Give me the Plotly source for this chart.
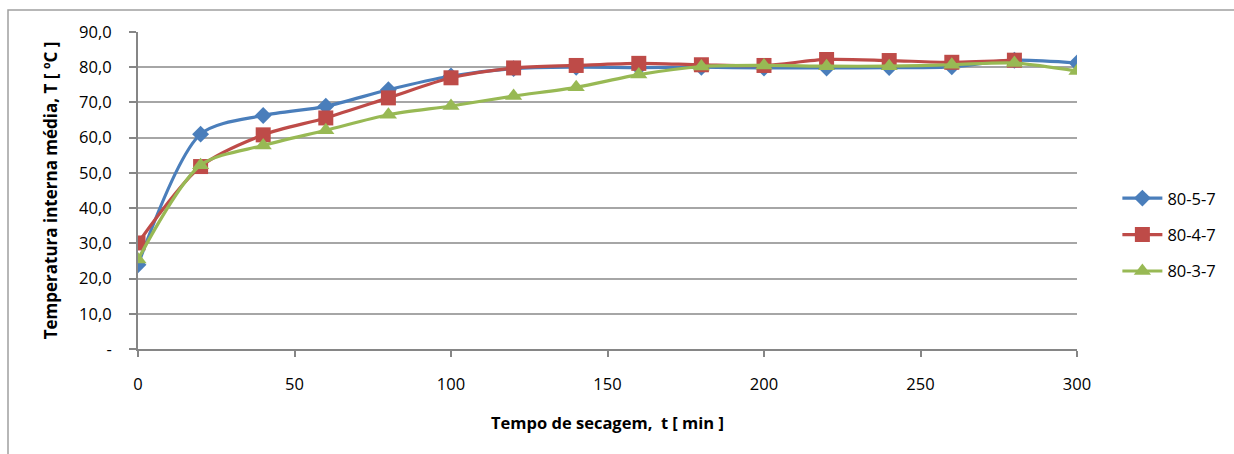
import plotly.graph_objects as go

# Drying time (min)
tempo = [0, 20, 40, 60, 80, 100, 120, 140, 160, 180, 200, 220, 240, 260, 280, 300]

# Mean internal temperature (ºC) for each drying condition
t_80_5_7 = [23.9, 61.0, 66.3, 68.9, 73.6, 77.5, 79.6, 80.0, 79.9, 80.0, 79.8, 79.8, 79.9, 80.1, 82.0, 81.2]
t_80_4_7 = [30.1, 51.8, 60.8, 65.6, 71.3, 77.0, 79.8, 80.5, 81.1, 80.7, 80.5, 82.2, 81.9, 81.4, 82.0, None]
t_80_3_7 = [25.4, 52.2, 57.8, 62.1, 66.5, 69.0, 71.8, 74.3, 77.9, 80.2, 80.5, 80.3, 80.3, 80.7, 81.2, 78.9]

series_names = ["80-5-7", "80-4-7", "80-3-7"]
series_values = [t_80_5_7, t_80_4_7, t_80_3_7]
colors = ["#4a7ebb", "#be4b48", "#98b954"]
symbols = ["diamond", "square", "triangle-up"]
marker_sizes = [13, 15, 15]

y_tickvals = [0, 10, 20, 30, 40, 50, 60, 70, 80, 90]
y_ticktext = ["-", "10,0", "20,0", "30,0", "40,0", "50,0", "60,0", "70,0", "80,0", "90,0"]
x_tickvals = [0, 50, 100, 150, 200, 250, 300]

FONT = "'Open Sans', Lato, sans-serif"

fig = go.Figure()
for name, vals, col, sym, ms in zip(series_names, series_values, colors, symbols, marker_sizes):
    fig.add_trace(go.Scatter(
        x=tempo, y=vals, name=name, mode="lines+markers",
        line=dict(color=col, width=3.2, shape="spline", smoothing=0.8),
        marker=dict(symbol=sym, size=ms, color=col),
        legendgroup=name, connectgaps=False,
    ))

fig.update_layout(
    width=1234, height=454,
    margin=dict(l=138, r=157, t=32, b=105),
    paper_bgcolor="white", plot_bgcolor="white",
    font=dict(family=FONT, size=15, color="#000000"),
    showlegend=True,
    legend=dict(
        x=1.043, xanchor="left", y=0.36, yanchor="middle",
        font=dict(family=FONT, size=16.5, color="#000000"),
        tracegroupgap=12, itemwidth=40,
        bgcolor="rgba(0,0,0,0)",
    ),
    xaxis=dict(
        range=[0, 300], tickvals=x_tickvals, ticktext=[str(v) for v in x_tickvals],
        showgrid=False, zeroline=False,
        showline=True, linecolor="#868686", linewidth=2,
        ticks="outside", ticklen=6, tickcolor="#868686", tickwidth=1.5,
        ticklabelstandoff=13,
        tickfont=dict(family=FONT, size=16.5),
        title=dict(text="<b>Tempo de secagem,  t [ min ]</b>", standoff=24,
                   font=dict(family=FONT, size=16.5)),
    ),
    yaxis=dict(
        range=[0, 90], tickvals=y_tickvals, ticktext=y_ticktext,
        showgrid=True, gridcolor="#a6a6a6", gridwidth=1.5,
        zeroline=False,
        showline=True, linecolor="#868686", linewidth=2,
        ticks="outside", ticklen=7, tickcolor="#868686", tickwidth=1.5,
        ticklabelstandoff=14,
        tickfont=dict(family=FONT, size=16.5),
        title=dict(text="<b>Temperatura interna média, T [ ºC ]</b>", standoff=17,
                   font=dict(family=FONT, size=17)),
    ),
)

# Chart frame (left and top edges)
fig.add_shape(type="rect", xref="paper", yref="paper",
              x0=-130 / 939, x1=1.2, y0=-0.4, y1=(349 - 10) / 317,
              line=dict(color="#a0a0a0", width=1.5), layer="below")

fig.write_html("out.html")
